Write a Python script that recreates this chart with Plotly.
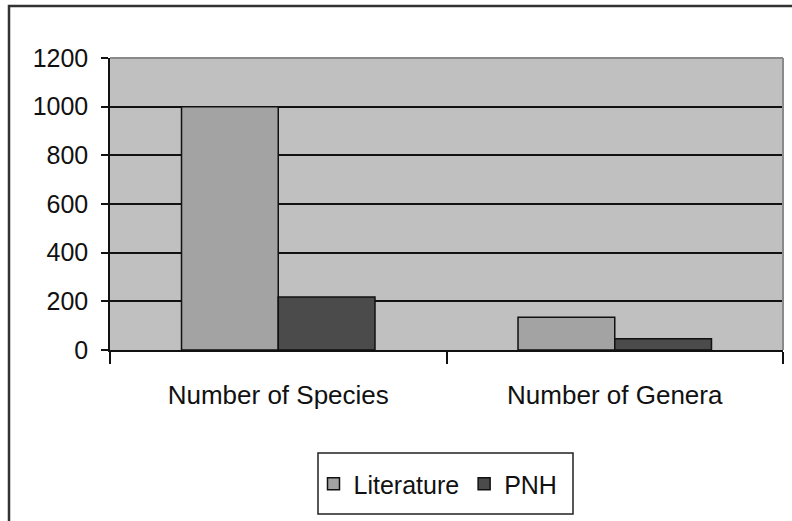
import plotly.graph_objects as go

categories = ["Number of Species", "Number of Genera"]
literature = [1000, 135]
pnh = [218, 46]
y_ticks = [0, 200, 400, 600, 800, 1000, 1200]

FONT = "Liberation Sans, Arial, sans-serif"

# plot-area geometry in pixels (for paper-coordinate conversions)
L, R, T, B = 110, 9, 58, 171
PW, PH = 792 - L - R, 521 - T - B


def px_x(p):
    return (p - L) / PW


def px_y(p):
    return (521 - B - p) / PH


fig = go.Figure()
fig.add_trace(go.Bar(name="Literature", x=categories, y=literature,
                     marker=dict(color="#a3a3a3", line=dict(color="#111111", width=1.5))))
fig.add_trace(go.Bar(name="PNH", x=categories, y=pnh,
                     marker=dict(color="#4b4b4b", line=dict(color="#111111", width=1.5))))

fig.update_layout(
    width=792, height=521,
    margin=dict(l=L, r=R, t=T, b=B),
    paper_bgcolor="white",
    plot_bgcolor="#c0c0c0",
    barmode="group",
    bargap=0.425,
    bargroupgap=0,
    font=dict(family=FONT, size=25, color="#111111"),
    showlegend=True,
    legend=dict(orientation="h", x=px_x(438), xanchor="center", y=px_y(484), yanchor="middle",
                bgcolor="rgba(0,0,0,0)", borderwidth=0,
                font=dict(family=FONT, size=25, color="#111111"),
                traceorder="normal", itemwidth=30),
    xaxis=dict(type="category", tickson="boundaries", ticks="outside", ticklen=12,
               tickwidth=1.5, tickcolor="#111111", showline=True, linecolor="#111111",
               linewidth=1.5, showgrid=False, tickfont=dict(size=26),
               automargin=False, ticklabelstandoff=21),
    yaxis=dict(range=[0, 1200], tickvals=y_ticks, ticks="outside", ticklen=7,
               tickwidth=1.5, tickcolor="#111111", showline=True, linecolor="#111111",
               linewidth=1.5, showgrid=True, gridcolor="#111111", gridwidth=1.5,
               zeroline=False, tickfont=dict(size=25), automargin=False,
               ticklabelstandoff=8),
    shapes=[
        # outer chart border (extends beyond the picture on right and bottom)
        dict(type="rect", xref="paper", yref="paper", x0=px_x(9), x1=1.2,
             y0=px_y(560), y1=px_y(6), line=dict(color="#333333", width=2.5),
             fillcolor="rgba(0,0,0,0)", layer="above"),
        # plot area top and right border (gray)
        dict(type="line", xref="paper", yref="paper", x0=0, x1=1, y0=1, y1=1,
             line=dict(color="#8a8a8a", width=2), layer="above"),
        dict(type="line", xref="paper", yref="paper", x0=1, x1=1, y0=0, y1=1,
             line=dict(color="#8a8a8a", width=2), layer="above"),
        # legend box
        dict(type="rect", xref="paper", yref="paper", x0=px_x(318), x1=px_x(573),
             y0=px_y(514), y1=px_y(453), line=dict(color="#222222", width=1.5),
             fillcolor="white", layer="below"),
    ],
)

fig.write_html("out.html",
               config={"displayModeBar": False},
               post_script="document.body.style.margin='0px';document.body.style.overflow='hidden';")
